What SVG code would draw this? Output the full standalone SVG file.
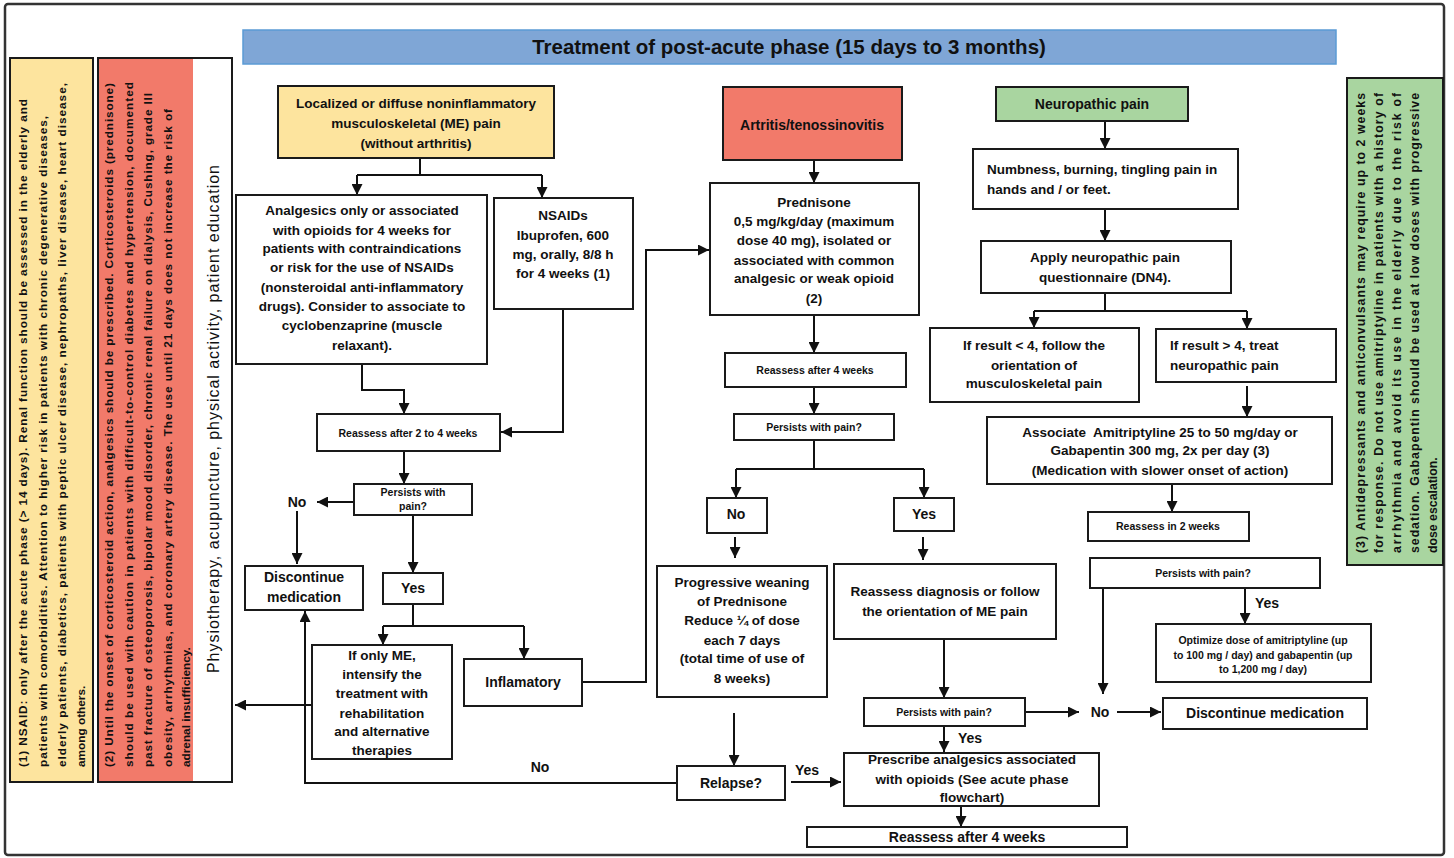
<svg xmlns="http://www.w3.org/2000/svg" width="1454" height="858" viewBox="0 0 1454 858">
<defs>
<marker id="ah" viewBox="0 0 10 10" refX="10" refY="5" markerWidth="11" markerHeight="11" markerUnits="userSpaceOnUse" orient="auto"><path d="M0,0 L10,5 L0,10 z" fill="#111"/></marker>
<style>
.box{fill:#fff;stroke:#1a1a1a;stroke-width:2}
.yel{fill:#fde49e}
.red{fill:#f27a6a}
.grn{fill:#a9d5a0}
text{font-family:"Liberation Sans",Arial,sans-serif;font-weight:bold;fill:#111}
.t{font-size:13.5px;text-anchor:middle}
.tl{font-size:13.5px;text-anchor:start}
.s{font-size:10.5px;text-anchor:middle}
.lab{font-size:14px;text-anchor:middle}
.side{font-size:11.8px}
.grt{font-size:12.3px}
.phys{font-size:16px;font-weight:normal}
.con{fill:none;stroke:#111;stroke-width:2}
.arr{fill:none;stroke:#111;stroke-width:2;marker-end:url(#ah)}
</style>
</defs>
<rect width="1454" height="858" fill="#fff"/>
<rect x="5" y="4" width="1439" height="851" rx="3" fill="none" stroke="#333" stroke-width="2.5"/>

<g id="title">
<rect x="243" y="30" width="1093" height="34" fill="#7fa6d6" stroke="#5b9bd5" stroke-width="1.5"/>
<text x="789" y="54" style="font-size:20.5px;text-anchor:middle">Treatment of post-acute phase (15 days to 3 months)</text>
</g>

<g id="note1">
<rect x="10" y="58" width="83" height="724" class="yel" stroke="#1a1a1a" stroke-width="2"/>
<text class="side" transform="translate(26.5,767) rotate(-90)" textLength="668">(1) NSAID: only after the acute phase (&gt; 14 days). Renal function should be assessed in the elderly and</text>
<text class="side" transform="translate(46.5,767) rotate(-90)" textLength="651">patients with comorbidities. Attention to higher risk in patients with chronic degenerative diseases,</text>
<text class="side" transform="translate(65.5,767) rotate(-90)" textLength="684">elderly patients, diabetics, patients with peptic ulcer disease, nephropaths, liver disease, heart disease,</text>
<text class="side" transform="translate(85,767) rotate(-90)">among others.</text>
</g>

<g id="note2">
<rect x="98" y="58" width="95" height="724" class="red"/>
<rect x="98" y="58" width="134" height="724" fill="none" stroke="#1a1a1a" stroke-width="2"/>
<text class="side" transform="translate(113,767) rotate(-90)" textLength="684">(2) Until the onset of corticosteroid action, analgesics should be prescribed. Corticosteroids (prednisone)</text>
<text class="side" transform="translate(132.5,767) rotate(-90)" textLength="685">should be used with caution in patients with difficult-to-control diabetes and hypertension, documented</text>
<text class="side" transform="translate(152,767) rotate(-90)" textLength="674">past fracture of osteoporosis, bipolar mood disorder, chronic renal failure on dialysis, Cushing, grade III</text>
<text class="side" transform="translate(171.5,767) rotate(-90)" textLength="658">obesity, arrhythmias, and coronary artery disease. The use until 21 days does not increase the risk of</text>
<text class="side" transform="translate(190,767) rotate(-90)">adrenal insufficiency.</text>
</g>

<g id="physio">
<text class="phys" transform="translate(219,673) rotate(-90)" textLength="508">Physiotherapy, acupuncture, physical activity, patient education</text>
</g>

<g id="note3">
<rect x="1347" y="78" width="96" height="487" class="grn" stroke="#1a1a1a" stroke-width="2"/>
<text class="grt" transform="translate(1364.5,553) rotate(-90)" textLength="460">(3) Antidepressants and anticonvulsants may require up to 2 weeks</text>
<text class="grt" transform="translate(1382.5,553) rotate(-90)" textLength="460">for response. Do not use amitriptyline in patients with a history of</text>
<text class="grt" transform="translate(1400.5,553) rotate(-90)" textLength="460">arrhythmia and avoid its use in the elderly due to the risk of</text>
<text class="grt" transform="translate(1418.5,553) rotate(-90)" textLength="460">sedation. Gabapentin should be used at low doses with progressive</text>
<text class="grt" transform="translate(1436.5,553) rotate(-90)">dose escalation.</text>
</g>

<g id="connectors">
<polyline class="con" points="420,158 420,175"/>
<line class="con" x1="357" y1="175" x2="542" y2="175"/>
<line class="arr" x1="357" y1="175" x2="357" y2="195"/>
<line class="arr" x1="542" y1="175" x2="542" y2="198"/>
<polyline class="arr" points="362,364 362,390 404,390 404,414"/>
<polyline class="arr" points="563,309 563,432 501,432"/>
<line class="arr" x1="404" y1="451" x2="404" y2="484"/>
<line class="arr" x1="354" y1="502" x2="317" y2="502"/>
<line class="arr" x1="297" y1="511" x2="297" y2="564"/>
<line class="arr" x1="413" y1="515" x2="413" y2="573"/>
<line class="con" x1="413" y1="604" x2="413" y2="626"/>
<line class="con" x1="383" y1="626" x2="524" y2="626"/>
<line class="arr" x1="383" y1="626" x2="383" y2="645"/>
<line class="arr" x1="524" y1="626" x2="524" y2="659"/>
<line class="arr" x1="312" y1="705" x2="235" y2="705"/>
<polyline class="arr" points="582,682 646,682 646,250 709,250"/>
<polyline class="arr" points="677,783 305,783 305,611"/>

<line class="arr" x1="814" y1="160" x2="814" y2="183"/>
<line class="arr" x1="814" y1="315" x2="814" y2="353"/>
<line class="arr" x1="814" y1="387" x2="814" y2="414"/>
<line class="con" x1="814" y1="440" x2="814" y2="469"/>
<line class="con" x1="736" y1="469" x2="924" y2="469"/>
<line class="arr" x1="736" y1="469" x2="736" y2="498"/>
<line class="arr" x1="924" y1="469" x2="924" y2="498"/>
<line class="arr" x1="735" y1="537" x2="735" y2="558"/>
<line class="arr" x1="923" y1="537" x2="923" y2="560"/>
<line class="arr" x1="944" y1="639" x2="944" y2="698"/>
<line class="arr" x1="1025" y1="712" x2="1079" y2="712"/>
<line class="arr" x1="944" y1="726" x2="944" y2="752"/>
<line class="arr" x1="734" y1="713" x2="734" y2="766"/>
<line class="arr" x1="791" y1="782" x2="841" y2="782"/>
<line class="arr" x1="961" y1="806" x2="961" y2="827"/>

<line class="arr" x1="1105" y1="121" x2="1105" y2="149"/>
<line class="arr" x1="1105" y1="209" x2="1105" y2="241"/>
<line class="con" x1="1105" y1="293" x2="1105" y2="311"/>
<line class="con" x1="1034" y1="311" x2="1247" y2="311"/>
<line class="arr" x1="1034" y1="311" x2="1034" y2="328"/>
<line class="arr" x1="1247" y1="311" x2="1247" y2="329"/>
<line class="arr" x1="1247" y1="386" x2="1247" y2="417"/>
<line class="arr" x1="1172" y1="485" x2="1172" y2="512"/>
<line class="arr" x1="1103" y1="588" x2="1103" y2="694"/>
<line class="arr" x1="1245" y1="588" x2="1245" y2="624"/>
<line class="arr" x1="1117" y1="712" x2="1161" y2="712"/>
</g>

<g id="labels">
<text class="lab" x="297" y="507">No</text>
<text class="lab" x="540" y="772">No</text>
<text class="lab" x="970" y="743">Yes</text>
<text class="lab" x="807" y="775">Yes</text>
<text class="lab" x="1100" y="717">No</text>
<text class="lab" x="1267" y="608">Yes</text>
</g>

<g id="n-me">
<rect x="278" y="86" width="276" height="72" class="box yel"/>
<text class="t" x="416" y="108">Localized or diffuse noninflammatory</text>
<text class="t" x="416" y="128">musculoskeletal (ME) pain</text>
<text class="t" x="416" y="148">(without arthritis)</text>
</g>
<g id="n-analgesics">
<rect x="236" y="195" width="251" height="169" class="box"/>
<text class="t" x="362" y="215">Analgesics only or associated</text>
<text class="t" x="362" y="235">with opioids for 4 weeks for</text>
<text class="t" x="362" y="253">patients with contraindications</text>
<text class="t" x="362" y="272">or risk for the use of NSAIDs</text>
<text class="t" x="362" y="292">(nonsteroidal anti-inflammatory</text>
<text class="t" x="362" y="311">drugs). Consider to associate to</text>
<text class="t" x="362" y="330">cyclobenzaprine (muscle</text>
<text class="t" x="362" y="350">relaxant).</text>
</g>
<g id="n-nsaids">
<rect x="494" y="198" width="139" height="111" class="box"/>
<text class="t" x="563" y="220">NSAIDs</text>
<text class="t" x="563" y="240">Ibuprofen, 600</text>
<text class="t" x="563" y="259">mg, orally, 8/8 h</text>
<text class="t" x="563" y="278">for 4 weeks (1)</text>
</g>
<g id="n-reassess24">
<rect x="317" y="414" width="183" height="37" class="box"/>
<text class="s" x="408" y="437">Reassess after 2 to 4 weeks</text>
</g>
<g id="n-persists1">
<rect x="354" y="484" width="118" height="31" class="box"/>
<text class="s" x="413" y="496">Persists with</text>
<text class="s" x="413" y="510">pain?</text>
</g>
<g id="n-discontinue1">
<rect x="245" y="566" width="118" height="44" class="box"/>
<text class="lab" x="304" y="582">Discontinue</text>
<text class="lab" x="304" y="602">medication</text>
</g>
<g id="n-yes1">
<rect x="383" y="573" width="60" height="31" class="box"/>
<text class="lab" x="413" y="593">Yes</text>
</g>
<g id="n-onlyme">
<rect x="312" y="645" width="140" height="114" class="box"/>
<text class="t" x="382" y="660">If only ME,</text>
<text class="t" x="382" y="679">intensify the</text>
<text class="t" x="382" y="698">treatment with</text>
<text class="t" x="382" y="718">rehabilitation</text>
<text class="t" x="382" y="736">and alternative</text>
<text class="t" x="382" y="755">therapies</text>
</g>
<g id="n-inflam">
<rect x="464" y="659" width="118" height="47" class="box"/>
<text class="lab" x="523" y="687">Inflamatory</text>
</g>

<g id="n-artritis">
<rect x="723" y="87" width="179" height="73" class="box red"/>
<text class="lab" x="812" y="130">Artritis/tenossinovitis</text>
</g>
<g id="n-prednisone">
<rect x="710" y="183" width="209" height="132" class="box"/>
<text class="t" x="814" y="207">Prednisone</text>
<text class="t" x="814" y="226">0,5 mg/kg/day (maximum</text>
<text class="t" x="814" y="245">dose 40 mg), isolated or</text>
<text class="t" x="814" y="265">associated with common</text>
<text class="t" x="814" y="283">analgesic or weak opioid</text>
<text class="t" x="814" y="303">(2)</text>
</g>
<g id="n-reassess4a">
<rect x="725" y="353" width="181" height="34" class="box"/>
<text class="s" x="815" y="374">Reassess after 4 weeks</text>
</g>
<g id="n-persists2">
<rect x="734" y="414" width="160" height="26" class="box"/>
<text class="s" x="814" y="431">Persists with pain?</text>
</g>
<g id="n-no2">
<rect x="707" y="498" width="60" height="35" class="box"/>
<text class="lab" x="736" y="519">No</text>
</g>
<g id="n-yes2">
<rect x="894" y="498" width="60" height="33" class="box"/>
<text class="lab" x="924" y="519">Yes</text>
</g>
<g id="n-weaning">
<rect x="657" y="566" width="170" height="131" class="box"/>
<text class="t" x="742" y="587">Progressive weaning</text>
<text class="t" x="742" y="606">of Prednisone</text>
<text class="t" x="742" y="625">Reduce ¼ of dose</text>
<text class="t" x="742" y="645">each 7 days</text>
<text class="t" x="742" y="663">(total time of use of</text>
<text class="t" x="742" y="683">8 weeks)</text>
</g>
<g id="n-reassessdx">
<rect x="834" y="564" width="222" height="75" class="box"/>
<text class="t" x="945" y="596">Reassess diagnosis or follow</text>
<text class="t" x="945" y="616">the orientation of ME pain</text>
</g>
<g id="n-persists3">
<rect x="864" y="698" width="161" height="28" class="box"/>
<text class="s" x="944" y="716">Persists with pain?</text>
</g>
<g id="n-relapse">
<rect x="677" y="766" width="108" height="34" class="box"/>
<text class="lab" x="731" y="788">Relapse?</text>
</g>
<g id="n-prescribe">
<rect x="844" y="753" width="255" height="53" class="box"/>
<text class="t" x="972" y="764">Prescribe analgesics associated</text>
<text class="t" x="972" y="784">with opioids (See acute phase</text>
<text class="t" x="972" y="802">flowchart)</text>
</g>
<g id="n-reassess4b">
<rect x="807" y="827" width="320" height="20" class="box"/>
<text class="lab" x="967" y="842">Reassess after 4 weeks</text>
</g>

<g id="n-neuro">
<rect x="996" y="87" width="192" height="34" class="box grn"/>
<text class="lab" x="1092" y="109">Neuropathic pain</text>
</g>
<g id="n-numbness">
<rect x="973" y="149" width="265" height="60" class="box"/>
<text class="tl" x="987" y="174">Numbness, burning, tingling pain in</text>
<text class="tl" x="987" y="194">hands and / or feet.</text>
</g>
<g id="n-dn4">
<rect x="981" y="241" width="250" height="52" class="box"/>
<text class="t" x="1105" y="262">Apply neuropathic pain</text>
<text class="t" x="1105" y="282">questionnaire (DN4).</text>
</g>
<g id="n-lt4">
<rect x="930" y="328" width="209" height="74" class="box"/>
<text class="t" x="1034" y="350">If result &lt; 4, follow the</text>
<text class="t" x="1034" y="370">orientation of</text>
<text class="t" x="1034" y="388">musculoskeletal pain</text>
</g>
<g id="n-gt4">
<rect x="1156" y="329" width="180" height="53" class="box"/>
<text class="tl" x="1170" y="350">If result &gt; 4, treat</text>
<text class="tl" x="1170" y="370">neuropathic pain</text>
</g>
<g id="n-associate">
<rect x="987" y="417" width="345" height="67" class="box"/>
<text class="t" x="1160" y="437">Associate&#160; Amitriptyline 25 to 50 mg/day or</text>
<text class="t" x="1160" y="455">Gabapentin 300 mg, 2x per day (3)</text>
<text class="t" x="1160" y="475">(Medication with slower onset of action)</text>
</g>
<g id="n-reassess2w">
<rect x="1088" y="512" width="161" height="29" class="box"/>
<text class="s" x="1168" y="530">Reassess in 2 weeks</text>
</g>
<g id="n-persists4">
<rect x="1090" y="558" width="230" height="30" class="box"/>
<text class="s" x="1203" y="577">Persists with pain?</text>
</g>
<g id="n-optimize">
<rect x="1156" y="624" width="215" height="58" class="box"/>
<text class="s" x="1263" y="644">Optimize dose of amitriptyline (up</text>
<text class="s" x="1263" y="659">to 100 mg / day) and gabapentin (up</text>
<text class="s" x="1263" y="673">to 1,200 mg / day)</text>
</g>
<g id="n-discontinue2">
<rect x="1163" y="698" width="204" height="31" class="box"/>
<text class="lab" x="1265" y="718">Discontinue medication</text>
</g>
</svg>
